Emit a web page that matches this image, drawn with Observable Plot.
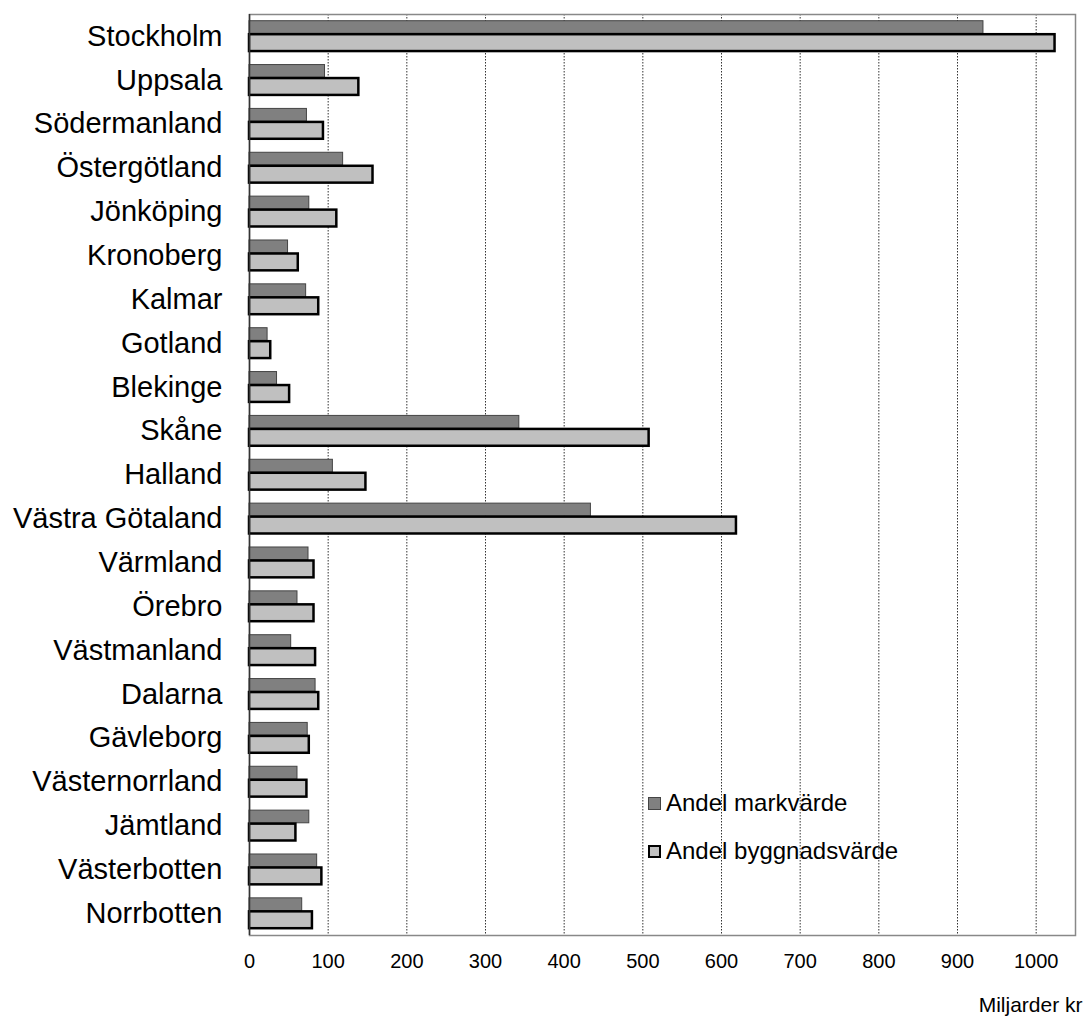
<!DOCTYPE html>
<html>
<head>
<meta charset="utf-8">
<script src="https://cdn.jsdelivr.net/npm/d3@7"></script>
<script src="https://cdn.jsdelivr.net/npm/@observablehq/plot@0.6"></script>
<style>
  body { margin: 0; background: #fff; font-family: "Liberation Sans", Arial, sans-serif; }
  #wrap { position: relative; width: 1084px; height: 1018px; }
  #legend { position: absolute; left: 648px; top: 790px; font-size: 24px; color: #000; }
  .item { display: flex; align-items: center; height: 26px; margin-bottom: 22px; }
  .sw { width: 13px; height: 13px; margin-right: 5px; box-sizing: border-box; }
</style>
</head>
<body>
<div id="wrap"></div>
<script>
const regions = ["Stockholm","Uppsala","Södermanland","Östergötland","Jönköping","Kronoberg","Kalmar","Gotland","Blekinge","Skåne","Halland","Västra Götaland","Värmland","Örebro","Västmanland","Dalarna","Gävleborg","Västernorrland","Jämtland","Västerbotten","Norrbotten"];
const markvarde = [933,96,73,119,76,49,72,23,35,343,106,434,75,61,53,84,74,61,76,86,67];
const byggnadsvarde = [1024,139,94,157,111,62,88,27,51,508,148,619,82,82,84,88,76,73,59,92,80];
const seriesNames = ["Andel markvärde", "Andel byggnadsvärde"];
const xTicks = [0,100,200,300,400,500,600,700,800,900,1000];
const axisTitle = "Miljarder kr";

const mark = regions.map((r, i) => ({region: r, value: markvarde[i]}));
const bygg = regions.map((r, i) => ({region: r, value: byggnadsvarde[i]}));

const chart = Plot.plot({
  width: 1084,
  height: 1018,
  marginLeft: 249,
  marginRight: 9,
  marginTop: 14,
  marginBottom: 83,
  style: {fontFamily: '"Liberation Sans", Arial, sans-serif', background: "#fff", color: "#000"},
  x: {domain: [0, 1050], ticks: xTicks, label: null},
  y: {domain: regions, padding: 0, round: false, label: null},
  marks: [
    Plot.gridX(xTicks, {stroke: "#333", strokeOpacity: 1, strokeDasharray: "1.5,1.5", strokeWidth: 1}),
    Plot.frame({stroke: "#888", strokeWidth: 1.5}),
    Plot.barX(mark, {x: "value", y: "region", fill: "#808080", stroke: "#444", strokeWidth: 1, insetTop: 6.7, insetBottom: 24.5}),
    Plot.barX(bygg, {x: "value", y: "region", fill: "#c0c0c0", stroke: "#000", strokeWidth: 2.5, insetTop: 20.2, insetBottom: 6.8}),
    Plot.ruleX([0], {stroke: "#333", strokeWidth: 1.5}),
    Plot.axisX(xTicks, {tickSize: 0, tickPadding: 18, fontSize: 20, label: null, tickFormat: d => String(d)}),
    Plot.axisY({tickSize: 0, tickPadding: 27, fontSize: 29, label: null}),
    Plot.text([axisTitle], {frameAnchor: "bottom-right", dx: 7, dy: 76, textAnchor: "end", fontSize: 21})
  ]
});
document.getElementById("wrap").appendChild(chart);

const legend = document.createElement("div");
legend.id = "legend";
const styles = [
  {fill: "#808080", border: "1px solid #444"},
  {fill: "#c0c0c0", border: "2px solid #000"}
];
seriesNames.forEach((name, i) => {
  const item = document.createElement("div");
  item.className = "item";
  const sw = document.createElement("div");
  sw.className = "sw";
  sw.style.background = styles[i].fill;
  sw.style.border = styles[i].border;
  const t = document.createElement("span");
  t.textContent = name;
  item.appendChild(sw);
  item.appendChild(t);
  legend.appendChild(item);
});
document.getElementById("wrap").appendChild(legend);
</script>
</body>
</html>
